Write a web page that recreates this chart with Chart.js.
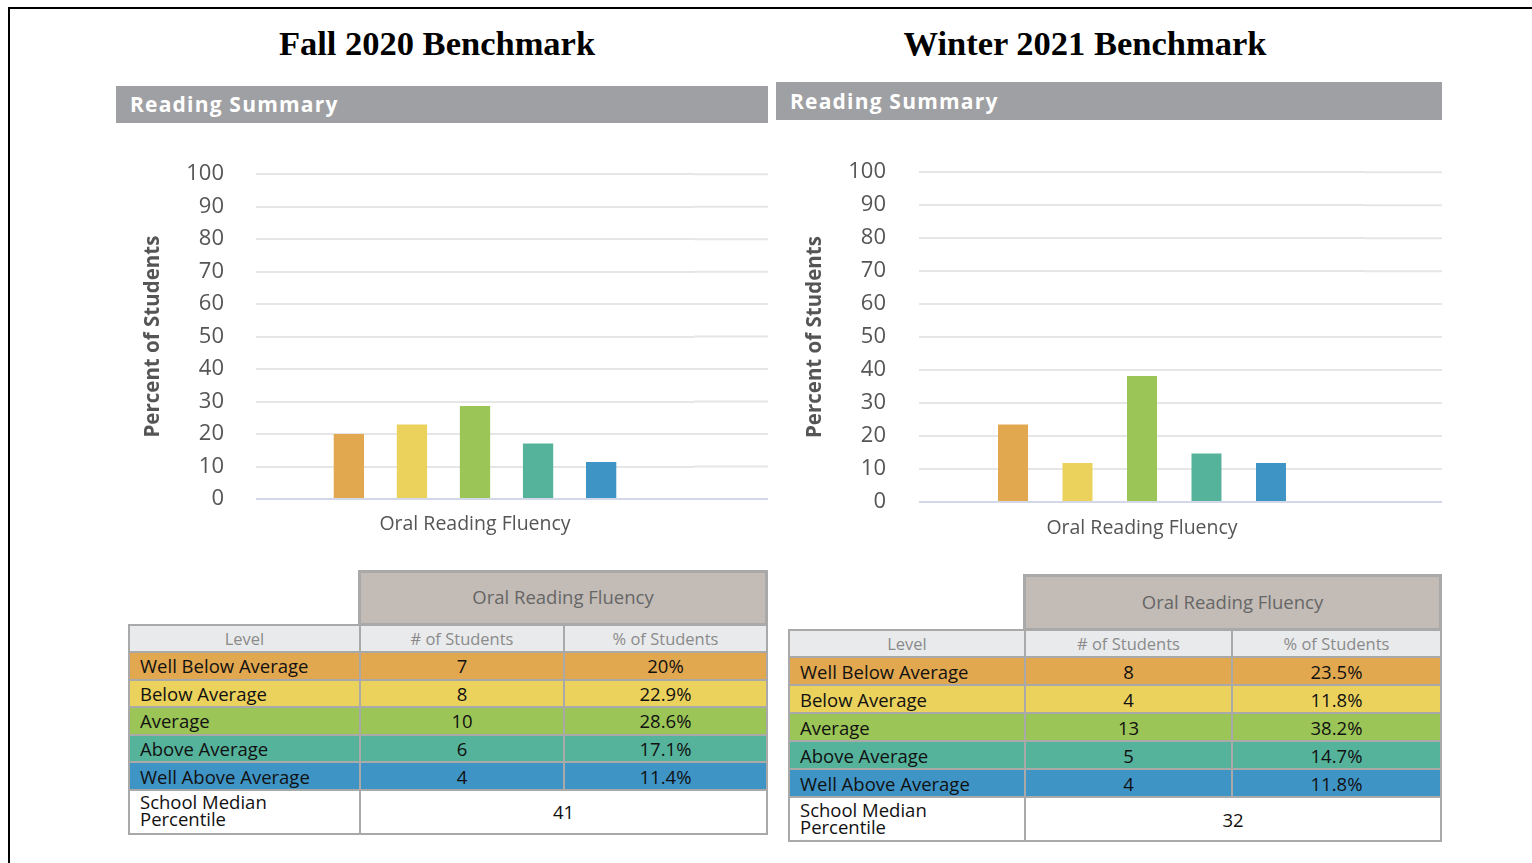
<!DOCTYPE html>
<html>
<head>
<meta charset="utf-8">
<title>Reading Benchmark</title>
<script src="https://cdn.jsdelivr.net/npm/chart.js@4.4.1/dist/chart.umd.min.js"></script>
<style>
  body { margin: 0; width: 1532px; height: 863px; overflow: hidden; background: #fff; position: relative; font-family: "Open Sans", sans-serif; }
  .frame { position: absolute; left: 8px; top: 7px; width: 1600px; height: 900px; border-left: 2px solid #000; border-top: 2px solid #000; }
  .title { position: absolute; font-family: "Liberation Serif", serif; font-weight: bold; font-size: 34.5px; line-height: 34px; color: #000; transform: translateX(-50%); white-space: nowrap; }
  .band { position: absolute; background: #9fa0a3; color: #fff; font-weight: bold; font-size: 21px; padding-left: 14px; box-sizing: border-box; letter-spacing: 1.2px; }
  .ghead { position: absolute; background: #c3bcb6; border: 3px solid #a9a9a9; box-sizing: border-box; color: #666; font-size: 18.5px; display: flex; align-items: center; justify-content: center; padding-bottom: 3px; }
  .tbl { position: absolute; display: grid; background: #a9a9a9; padding: 2px; gap: 2px; box-sizing: border-box; }
  .tbl div { display: flex; align-items: center; font-size: 18.5px; color: #111; white-space: nowrap; }
  .tbl .hd { background: #e9eaec; color: #8a8a8a; font-size: 16.5px; justify-content: center; }
  .tbl .lv { padding-left: 10px; }
  .tbl .num { justify-content: center; }
  .tbl .med { background: #fff; padding-left: 10px; line-height: 17px; white-space: pre-line; padding-bottom: 3px; }
  .tbl .medv { background: #fff; justify-content: center; grid-column: span 2; }
  canvas { position: absolute; }
</style>
</head>
<body>
<div class="frame"></div>

<div class="title" style="left:437px; top:26px;">Fall 2020 Benchmark</div>
<div class="title" style="left:1085px; top:26px;">Winter 2021 Benchmark</div>

<div class="band" style="left:116px; top:86px; width:652px; height:37px; line-height:37px;">Reading Summary</div>
<div class="band" style="left:776px; top:82px; width:666px; height:38px; line-height:38px;">Reading Summary</div>

<canvas id="fallChart" width="652" height="421" style="left:116px; top:129px;"></canvas>
<canvas id="winterChart" width="666" height="429" style="left:776px; top:126px;"></canvas>

<div class="ghead" style="left:358px; top:570px; width:410px; height:56px;">Oral Reading Fluency</div>
<div class="tbl" id="fallTable" style="left:128px; top:624px; width:640px; grid-template-columns: 229px 202px 201px; grid-template-rows: 25px repeat(5, 25.6px) 42px;"></div>

<div class="ghead" style="left:1023px; top:574px; width:419px; height:57px;">Oral Reading Fluency</div>
<div class="tbl" id="winterTable" style="left:788px; top:629px; width:654px; grid-template-columns: 234px 205px 207px; grid-template-rows: 25px repeat(5, 26px) 42px;"></div>

<script>
// data
var levels = ['Well Below Average', 'Below Average', 'Average', 'Above Average', 'Well Above Average'];
var measure = ['Oral Reading Fluency'];
var fallCounts = [7, 8, 10, 6, 4];
var fallPercent = [20, 22.9, 28.6, 17.1, 11.4];
var fallMedian = 41;
var winterCounts = [8, 4, 13, 5, 4];
var winterPercent = [23.5, 11.8, 38.2, 14.7, 11.8];
var winterMedian = 32;
var yMin = 0, yMax = 100, yStep = 10;
var medianLabel = 'School Median\nPercentile';

var levelColors = ['#e2a84f', '#ebd25d', '#9bc557', '#55b39c', '#3f94c6'];

// gridlines run on past the plot to the right edge of the panel
var extendGrid = {
  id: 'extendGrid',
  beforeDatasetsDraw: function(chart) {
    var ctx = chart.ctx;
    var y = chart.scales.y;
    ctx.save();
    ctx.lineWidth = 2;
    y.ticks.forEach(function(t) {
      var py = y.getPixelForValue(t.value);
      ctx.strokeStyle = t.value === 0 ? '#d3d8e8' : '#e6e6e6';
      ctx.beginPath();
      ctx.moveTo(chart.chartArea.right, py);
      ctx.lineTo(chart.width, py);
      ctx.stroke();
    });
    ctx.restore();
  }
};

function makeChart(id, values, g) {
  var datasets = levels.map(function(lvl, i) {
    return {
      label: lvl,
      data: [values[i]],
      backgroundColor: levelColors[i],
      categoryPercentage: g.catPct,
      barPercentage: g.barPct
    };
  });
  return new Chart(document.getElementById(id), {
    type: 'bar',
    data: { labels: measure, datasets: datasets },
    plugins: [extendGrid],
    options: {
      responsive: false,
      animation: false,
      devicePixelRatio: 1,
      layout: { padding: { top: 0, right: g.right, bottom: 0, left: 0 } },
      plugins: { legend: { display: false }, tooltip: { enabled: false } },
      scales: {
        x: {
          grid: { display: false, drawTicks: false },
          border: { display: false },
          ticks: { color: '#555', font: { family: 'Open Sans', size: 19.5 }, padding: g.xPad },
          afterFit: function(s) { s.height = g.xHeight; }
        },
        y: {
          min: yMin, max: yMax,
          ticks: { stepSize: yStep, color: '#555', font: { family: 'Open Sans', size: 22 }, padding: g.yPad },
          grid: {
            drawTicks: false,
            lineWidth: 2,
            color: function(c) { return c.tick && c.tick.value === 0 ? '#d3d8e8' : '#e6e6e6'; }
          },
          border: { display: false },
          title: {
            display: true,
            text: 'Percent of Students',
            color: '#555',
            font: { family: 'Open Sans', size: 20.5, weight: 'bold' },
            padding: { top: g.titlePad, bottom: 0 }
          },
          afterFit: function(s) { s.width = g.yWidth; }
        }
      }
    }
  });
}

makeChart('fallChart', fallPercent, {
  right: 74, xHeight: 51, xPad: 14, yWidth: 140, yPad: 32, titlePad: 25,
  catPct: 0.72, barPct: 0.48
});
makeChart('winterChart', winterPercent, {
  right: 77, xHeight: 53, xPad: 15, yWidth: 143, yPad: 33, titlePad: 27,
  catPct: 0.723, barPct: 0.465
});

function cell(parent, cls, text, bg) {
  var d = document.createElement('div');
  d.className = cls;
  d.textContent = text;
  if (bg) d.style.background = bg;
  parent.appendChild(d);
  return d;
}

function buildTable(id, counts, percents, median) {
  var t = document.getElementById(id);
  cell(t, 'hd', 'Level');
  cell(t, 'hd', '# of Students');
  cell(t, 'hd', '% of Students');
  for (var i = 0; i < levels.length; i++) {
    cell(t, 'lv', levels[i], levelColors[i]);
    cell(t, 'num', String(counts[i]), levelColors[i]);
    cell(t, 'num', percents[i] + '%', levelColors[i]);
  }
  cell(t, 'med', medianLabel);
  cell(t, 'medv', String(median));
}

buildTable('fallTable', fallCounts, fallPercent, fallMedian);
buildTable('winterTable', winterCounts, winterPercent, winterMedian);
</script>
</body>
</html>
